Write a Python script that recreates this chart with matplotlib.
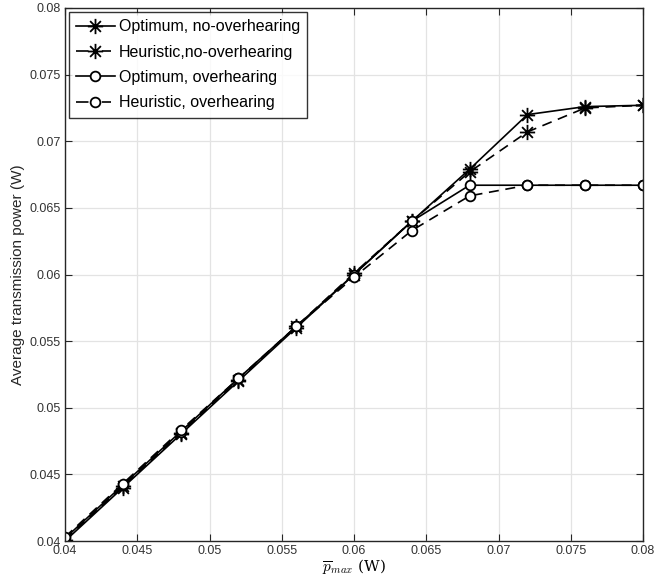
import matplotlib
matplotlib.use('Agg')
import matplotlib.pyplot as plt
from matplotlib.path import Path

plt.rcParams['font.family'] = ['Liberation Sans', 'DejaVu Sans']
plt.rcParams['mathtext.fontset'] = 'cm'

# x values (W)
p_max = [0.040, 0.044, 0.048, 0.052, 0.056, 0.060, 0.064, 0.068, 0.072, 0.076, 0.080]

# average transmission power (W)
opt_no_ovh = [0.0400, 0.0440, 0.0480, 0.0520, 0.0560, 0.0600, 0.0640, 0.0679, 0.0720, 0.0726, 0.0727]
heu_no_ovh = [0.0401, 0.0441, 0.0481, 0.0521, 0.0561, 0.0601, 0.0640, 0.0677, 0.0707, 0.0725, 0.0727]
opt_ovh = [0.0402, 0.0442, 0.0482, 0.0522, 0.0561, 0.0600, 0.0640, 0.0667, 0.0667, 0.0667, 0.0667]
heu_ovh = [0.0403, 0.0443, 0.0483, 0.0522, 0.0561, 0.0598, 0.0633, 0.0659, 0.0667, 0.0667, 0.0667]

labels = ['Optimum, no-overhearing', 'Heuristic,no-overhearing',
          'Optimum, overhearing', 'Heuristic, overhearing']

# matlab style asterisk: plus + cross
d = 0.7071
asterisk = Path([(-1, 0), (1, 0), (0, -1), (0, 1), (-d, -d), (d, d), (-d, d), (d, -d)],
                [Path.MOVETO, Path.LINETO] * 4)

fig = plt.figure(figsize=(6.65, 5.79), dpi=100)
ax = fig.add_axes([65 / 665, 38 / 579, 578 / 665, 533 / 579])

ax.plot(p_max, opt_no_ovh, '-', color='k', marker=asterisk, ms=11, mew=1.3, lw=1.2, label=labels[0])
ax.plot(p_max, heu_no_ovh, '--', color='k', marker=asterisk, ms=11, mew=1.3, lw=1.2,
        dashes=(6, 4), label=labels[1])
ax.plot(p_max, opt_ovh, '-', color='k', marker='o', ms=7, mfc='white', mew=1.3, lw=1.2, label=labels[2])
ax.plot(p_max, heu_ovh, '--', color='k', marker='o', ms=7, mfc='white', mew=1.3, lw=1.2,
        dashes=(6, 4), label=labels[3])

ax.set_xlim(0.04, 0.08)
ax.set_ylim(0.04, 0.08)
xt = [0.04, 0.045, 0.05, 0.055, 0.06, 0.065, 0.07, 0.075, 0.08]
ax.set_xticks(xt)
ax.set_yticks(xt)
ax.set_xticklabels(['0.04', '0.045', '0.05', '0.055', '0.06', '0.065', '0.07', '0.075', '0.08'])
ax.set_yticklabels(['0.04', '0.045', '0.05', '0.055', '0.06', '0.065', '0.07', '0.075', '0.08'])
ax.tick_params(direction='in', top=True, right=True, labelsize=9, colors='#262626',
               labelcolor='#333333', length=5, width=0.8, pad=3)
ax.grid(True, color='#e3e3e3', lw=0.9)
ax.set_axisbelow(True)
for s in ax.spines.values():
    s.set_color('#262626')
    s.set_linewidth(1.0)

ax.set_xlabel(r'$\overline{p}_{max}$ (W)', fontsize=11, fontfamily='serif', labelpad=0)
ax.xaxis.label.set_math_fontfamily('cm')
ax.set_ylabel('Average transmission power (W)', fontsize=11, color='#262626', labelpad=3)

leg = ax.legend(loc='upper left', fontsize=11.5, frameon=True, fancybox=False,
                edgecolor='k', handlelength=2.4, handletextpad=0.25, borderpad=0.45,
                labelspacing=0.65, borderaxespad=0.25)
leg.get_frame().set_linewidth(1.0)
# dashed entries in the legend show one short dash on each side of the marker
for h in leg.get_lines()[1::2]:
    h.set_dashes((7.5, 8, 5.5, 20))

fig.savefig('out.png', dpi=100)
